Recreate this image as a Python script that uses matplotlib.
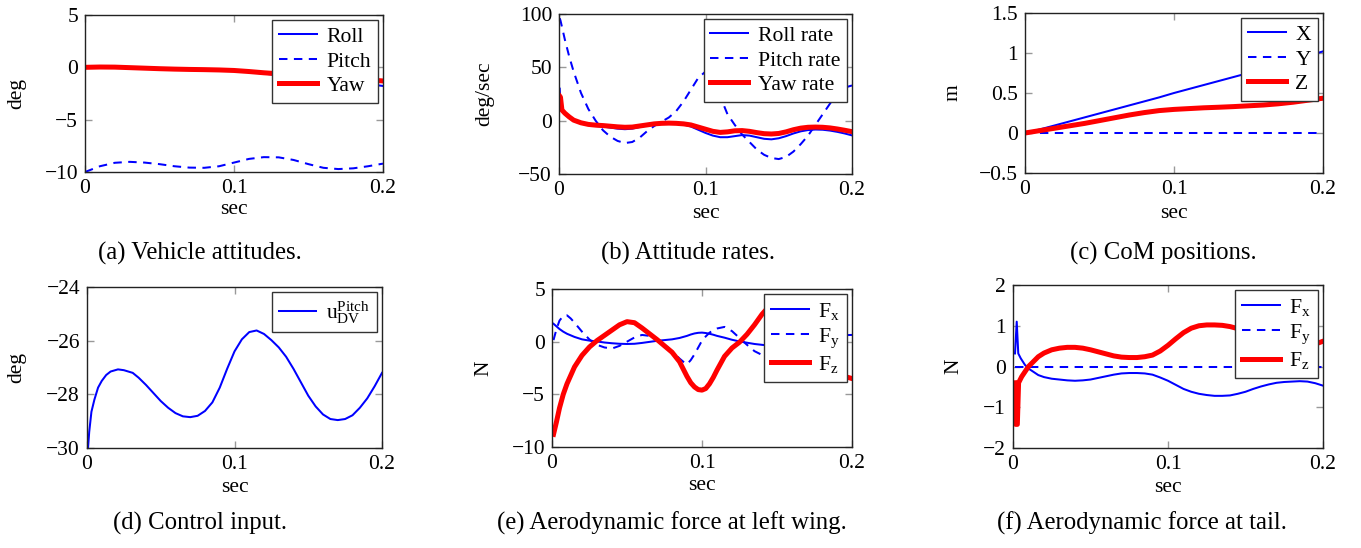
"""Six-panel flight simulation summary: attitudes, rates, CoM, control input, aero forces."""

import matplotlib

matplotlib.use("Agg")
import matplotlib.pyplot as plt

plt.rcParams["font.family"] = ["Liberation Serif", "DejaVu Serif"]
plt.rcParams["mathtext.fontset"] = "custom"
plt.rcParams["mathtext.rm"] = "Liberation Serif"
plt.rcParams["mathtext.it"] = "Liberation Serif:italic"
plt.rcParams["axes.unicode_minus"] = True

BLUE = "#0000ff"
RED = "#ff0000"

# ---- (a) vehicle attitudes [deg] ----
t_a = [0, 0.01, 0.02, 0.03, 0.04, 0.05, 0.06, 0.07, 0.08, 0.09, 0.10,
       0.11, 0.12, 0.13, 0.14, 0.15, 0.16, 0.17, 0.18, 0.19, 0.20]
roll_a = [0, 0.02, 0.0, -0.05, -0.1, -0.15, -0.18, -0.2, -0.22, -0.25, -0.32,
          -0.45, -0.6, -0.75, -0.85, -0.95, -1.05, -1.2, -1.4, -1.6, -1.78]
pitch_a = [-10, -9.45, -9.12, -9.03, -9.1, -9.25, -9.45, -9.58, -9.6, -9.45, -9.1,
           -8.75, -8.58, -8.6, -8.85, -9.25, -9.6, -9.72, -9.65, -9.45, -9.2]
yaw_a = [0, 0.03, 0.02, -0.03, -0.08, -0.13, -0.17, -0.2, -0.22, -0.25, -0.3,
         -0.4, -0.52, -0.62, -0.72, -0.8, -0.9, -1.0, -1.1, -1.2, -1.3]

# ---- (b) attitude rates [deg/sec] ----
t_b = [0.0005, 0.001, 0.002, 0.004, 0.007, 0.01, 0.015, 0.02, 0.025, 0.03,
       0.035, 0.04, 0.045, 0.05, 0.055, 0.06, 0.065, 0.07, 0.075, 0.08,
       0.085, 0.09, 0.095, 0.1, 0.105, 0.11, 0.115, 0.12, 0.125, 0.13,
       0.135, 0.14, 0.145, 0.15, 0.155, 0.16, 0.165, 0.17, 0.175, 0.18,
       0.185, 0.19, 0.195, 0.2]
roll_rate = [30, 12, 9, 6, 2.5, 0, -2.5, -4, -5, -5.5,
             -6.5, -7.5, -8, -7.5, -6, -4.5, -3, -2.2, -2, -2.5,
             -3.5, -5.5, -8.5, -11.5, -14, -15.5, -15.5, -14.5, -13.5, -14,
             -15.5, -17, -17.5, -16.5, -14.5, -12, -10, -8.8, -8.3, -8.5,
             -9.3, -10.5, -12, -13.8]
pitch_rate = [96, 94, 88, 76, 60, 46, 26, 11, 0, -9,
              -15, -19, -21, -20, -16, -10, -5, -1, 3, 9,
              18, 29, 40, 46, 40, 23, 6, -4, -13, -20,
              -27, -32, -35, -36, -34, -29, -22, -14, -4, 6,
              16, 25, 31, 33]
yaw_rate = [23, 22, 10, 7, 3.5, 0.5, -2, -3.5, -4.2, -4.6,
            -5.2, -5.8, -6.2, -6, -5, -4, -3, -2.5, -2.3, -2.5,
            -3, -4, -6, -8, -10, -11, -10.5, -9.5, -9.3, -10,
            -11.2, -12.2, -12.5, -12, -10.5, -8.5, -7, -6.2, -6, -6.2,
            -6.8, -7.8, -9, -10.3]

# ---- (c) CoM positions [m] ----
t_c = [0, 0.01, 0.02, 0.03, 0.04, 0.05, 0.06, 0.07, 0.08, 0.09, 0.10,
       0.11, 0.12, 0.13, 0.14, 0.15, 0.16, 0.17, 0.18, 0.19, 0.20]
com_x = [0, 0.045, 0.095, 0.145, 0.195, 0.245, 0.295, 0.345, 0.395, 0.445, 0.5,
         0.55, 0.6, 0.65, 0.7, 0.75, 0.8, 0.855, 0.91, 0.965, 1.02]
com_y = [0] * 21
com_z = [0, 0.03, 0.06, 0.09, 0.12, 0.155, 0.19, 0.225, 0.255, 0.28, 0.295,
         0.305, 0.315, 0.322, 0.33, 0.34, 0.35, 0.365, 0.385, 0.41, 0.435]

# ---- (d) control input [deg] ----
t_d = [0.0007, 0.0015, 0.003, 0.005, 0.0075, 0.01, 0.013, 0.016, 0.021, 0.025,
       0.031, 0.035, 0.04, 0.045, 0.05, 0.055, 0.06, 0.065, 0.07, 0.075,
       0.08, 0.085, 0.09, 0.095, 0.1, 0.105, 0.11, 0.115, 0.12, 0.125,
       0.13, 0.135, 0.14, 0.145, 0.15, 0.155, 0.16, 0.165, 0.17, 0.175,
       0.18, 0.185, 0.19, 0.195, 0.2]
u_pitch = [-30, -29.4, -28.65, -28.2, -27.75, -27.5, -27.28, -27.15, -27.07, -27.1,
           -27.2, -27.38, -27.65, -27.95, -28.25, -28.5, -28.7, -28.82, -28.85, -28.8,
           -28.62, -28.3, -27.75, -27.05, -26.4, -25.95, -25.68, -25.62, -25.75, -25.98,
           -26.25, -26.6, -27.05, -27.55, -28.05, -28.45, -28.75, -28.92, -28.96, -28.92,
           -28.78, -28.5, -28.15, -27.7, -27.2]

# ---- (e) aerodynamic force at left wing [N] ----
t_e = [0.001, 0.003, 0.005, 0.0075, 0.01, 0.0125, 0.015, 0.02, 0.025, 0.03,
       0.035, 0.04, 0.045, 0.05, 0.055, 0.06, 0.065, 0.07, 0.075, 0.08,
       0.085, 0.0875, 0.09, 0.0925, 0.095, 0.0975, 0.1, 0.1025, 0.105, 0.1075,
       0.11, 0.115, 0.12, 0.125, 0.13, 0.135, 0.14, 0.145, 0.15, 0.155,
       0.16, 0.165, 0.17, 0.175, 0.18, 0.185, 0.19, 0.195, 0.2]
fx_e = [1.7, 1.45, 1.2, 0.95, 0.75, 0.6, 0.45, 0.22, 0.1, 0.02,
        -0.08, -0.15, -0.2, -0.22, -0.2, -0.12, -0.02, 0.08, 0.15, 0.22,
        0.35, 0.45, 0.55, 0.68, 0.78, 0.84, 0.86, 0.82, 0.75, 0.66,
        0.55, 0.38, 0.18, 0.02, -0.1, -0.22, -0.3, -0.38, -0.42, -0.38,
        -0.28, -0.12, 0.05, 0.2, 0.35, 0.48, 0.56, 0.62, 0.64]
fy_e = [0.15, 1.2, 2.0, 2.45, 2.5, 2.2, 1.8, 0.95, 0.2, -0.3,
        -0.55, -0.65, -0.4, 0.0, 0.4, 0.64, 0.55, 0.2, -0.3, -0.9,
        -1.6, -1.9, -2.15, -1.75, -1.2, -0.55, 0.1, 0.5, 0.85, 1.1,
        1.25, 1.4, 1.0, 0.35, -0.3, -0.9, -1.26, -1.4, -1.4, -1.25,
        -1.0, -0.7, -0.4, -0.2, -0.1, -0.2, -0.45, -0.8, -0.6]
fz_e = [-8.8, -7.6, -6.3, -5.0, -4.0, -3.2, -2.4, -1.3, -0.5, 0.1,
        0.6, 1.1, 1.6, 1.9, 1.8, 1.3, 0.75, 0.2, -0.4, -1.0,
        -1.9, -2.6, -3.3, -3.9, -4.3, -4.55, -4.6, -4.45, -4.0, -3.4,
        -2.7, -1.4, -0.6, -0.05, 0.7, 1.6, 2.6, 3.4, 3.9, 4.0,
        3.6, 2.7, 1.5, 0.2, -1.0, -2.0, -2.8, -3.3, -3.5]

# ---- (f) aerodynamic force at tail [N] ----
t_f = [0.0013, 0.0024, 0.0034, 0.005, 0.0077, 0.01, 0.0163, 0.02, 0.025, 0.03,
       0.035, 0.04, 0.045, 0.05, 0.055, 0.06, 0.065, 0.07, 0.075, 0.08,
       0.085, 0.09, 0.095, 0.1, 0.105, 0.11, 0.115, 0.12, 0.125, 0.13,
       0.135, 0.14, 0.145, 0.15, 0.155, 0.16, 0.165, 0.17, 0.175, 0.18,
       0.185, 0.19, 0.195, 0.2]
fx_f = [0.32, 1.1, 0.32, 0.2, 0.04, -0.05, -0.21, -0.26, -0.3, -0.32,
        -0.34, -0.35, -0.34, -0.32, -0.28, -0.24, -0.2, -0.17, -0.16, -0.16,
        -0.17, -0.2, -0.27, -0.35, -0.45, -0.55, -0.62, -0.67, -0.7, -0.72,
        -0.72, -0.71, -0.67, -0.62, -0.55, -0.49, -0.44, -0.4, -0.38, -0.37,
        -0.36, -0.37, -0.41, -0.47]
fy_f = [0] * 44
t_fz = [0.001, 0.0017, 0.0028, 0.0036, 0.0056, 0.01, 0.0163, 0.02, 0.025, 0.03,
        0.035, 0.04, 0.045, 0.05, 0.055, 0.06, 0.065, 0.07, 0.075, 0.08,
        0.085, 0.09, 0.095, 0.1, 0.105, 0.11, 0.115, 0.12, 0.125, 0.13,
        0.135, 0.14, 0.145, 0.15, 0.155, 0.16, 0.165, 0.17, 0.175, 0.18,
        0.185, 0.19, 0.195, 0.2]
fz_f = [-0.4, -1.42, -1.42, -0.4, -0.25, 0.0, 0.24, 0.33, 0.41, 0.45,
        0.47, 0.47, 0.45, 0.41, 0.36, 0.31, 0.26, 0.23, 0.22, 0.22,
        0.24, 0.28, 0.38, 0.52, 0.68, 0.83, 0.94, 1.0, 1.02, 1.02,
        1.01, 0.98, 0.93, 0.87, 0.8, 0.72, 0.65, 0.58, 0.53, 0.5,
        0.48, 0.5, 0.55, 0.62]

X_TICKS = [0, 0.1, 0.2]
X_TICK_LABELS = ["0", "0.1", "0.2"]

# ---- layout, in pixels of the 1361x548 canvas ----
W, H = 1361, 548
DASH = (0, (4.2, 3.2))
THIN = 1.45
THICK = 3.6
TICK_FS = 15.5
LEG_FS = 15.6
CAP_FS = 17.8


def add_panel(fig, box, ylim, yticks, yticklabels, ylabel, ylabel_x, xlabel_y):
    left, top, right, bottom = box
    ax = fig.add_axes([left / W, 1 - bottom / H, (right - left) / W, (bottom - top) / H])
    ax.set_xlim(0, 0.2)
    ax.set_ylim(*ylim)
    ax.set_xticks(X_TICKS)
    ax.set_xticklabels(X_TICK_LABELS)
    ax.set_yticks(yticks)
    ax.set_yticklabels(yticklabels)
    ax.tick_params(direction="in", top=True, right=True, length=5, width=1,
                   color="#999999", labelsize=TICK_FS, pad=5)
    for spine in ax.spines.values():
        spine.set_color("#222222")
        spine.set_linewidth(1.0)
    height = bottom - top
    ax.set_xlabel("sec", fontsize=TICK_FS, va="center")
    ax.xaxis.set_label_coords(0.5, (bottom - xlabel_y) / height)
    ax.set_ylabel(ylabel, fontsize=TICK_FS, va="center")
    ax.yaxis.set_label_coords((ylabel_x - left) / (right - left), 0.5)
    return ax


def add_legend(ax):
    leg = ax.legend(loc="upper right", fontsize=LEG_FS, fancybox=False,
                    edgecolor="#333333", framealpha=1, borderaxespad=0.25,
                    handlelength=1.75, handletextpad=0.45, labelspacing=0.2,
                    borderpad=0.3)
    leg.get_frame().set_linewidth(1.0)
    return leg


fig = plt.figure(figsize=(W / 100, H / 100), dpi=100)

ax = add_panel(fig, (85, 15, 383, 172), (-10, 5), [-10, -5, 0, 5],
               ["\u221210", "\u22125", "0", "5"], "deg", 17, 210)
ax.plot(t_a, roll_a, color=BLUE, lw=THIN, label="Roll")
ax.plot(t_a, pitch_a, color=BLUE, lw=THIN, ls=DASH, label="Pitch")
ax.plot(t_a, yaw_a, color=RED, lw=THICK, label="Yaw")
add_legend(ax)

ax = add_panel(fig, (559, 14, 852, 174), (-50, 100), [-50, 0, 50, 100],
               ["\u221250", "0", "50", "100"], "deg/sec", 485, 214)
ax.plot(t_b, roll_rate, color=BLUE, lw=THIN, label="Roll rate")
ax.plot(t_b, pitch_rate, color=BLUE, lw=THIN, ls=DASH, label="Pitch rate")
ax.plot(t_b, yaw_rate, color=RED, lw=THICK, label="Yaw rate")
add_legend(ax)

ax = add_panel(fig, (1025, 13, 1323, 173), (-0.5, 1.5), [-0.5, 0, 0.5, 1, 1.5],
               ["\u22120.5", "0", "0.5", "1", "1.5"], "m", 953, 213)
ax.plot(t_c, com_x, color=BLUE, lw=THIN, label="X")
ax.plot(t_c, com_y, color=BLUE, lw=THIN, ls=DASH, label="Y")
ax.plot(t_c, com_z, color=RED, lw=THICK, label="Z")
add_legend(ax)

ax = add_panel(fig, (87, 287, 382, 448), (-30, -24), [-30, -28, -26, -24],
               ["\u221230", "\u221228", "\u221226", "\u221224"], "deg", 17, 487)
ax.plot(t_d, u_pitch, color=BLUE, lw=THIN, label=r"u$^{\mathrm{Pitch}}_{\mathrm{DV}}$")
add_legend(ax)

ax = add_panel(fig, (552, 289, 852, 447), (-10, 5), [-10, -5, 0, 5],
               ["\u221210", "\u22125", "0", "5"], "N", 484, 486)
ax.plot(t_e, fx_e, color=BLUE, lw=THIN, label=r"F$_{\mathrm{x}}$")
ax.plot(t_e, fy_e, color=BLUE, lw=THIN, ls=DASH, label=r"F$_{\mathrm{y}}$")
ax.plot(t_e, fz_e, color=RED, lw=THICK, label=r"F$_{\mathrm{z}}$")
add_legend(ax)

ax = add_panel(fig, (1013, 285, 1323, 448), (-2, 2), [-2, -1, 0, 1, 2],
               ["\u22122", "\u22121", "0", "1", "2"], "N", 954, 487)
ax.plot(t_f, fx_f, color=BLUE, lw=THIN, label=r"F$_{\mathrm{x}}$")
ax.plot(t_f, fy_f, color=BLUE, lw=THIN, ls=DASH, label=r"F$_{\mathrm{y}}$")
ax.plot(t_fz, fz_f, color=RED, lw=THICK, label=r"F$_{\mathrm{z}}$")
add_legend(ax)

captions = [
    (200, 253, "(a) Vehicle attitudes."),
    (688, 253, "(b) Attitude rates."),
    (1163, 253, "(c) CoM positions."),
    (200, 523, "(d) Control input."),
    (672, 523, "(e) Aerodynamic force at left wing."),
    (1142, 523, "(f) Aerodynamic force at tail."),
]
for x, y, text in captions:
    fig.text(x / W, 1 - y / H, text, ha="center", va="center", fontsize=CAP_FS)

fig.savefig("out.png", dpi=100)
